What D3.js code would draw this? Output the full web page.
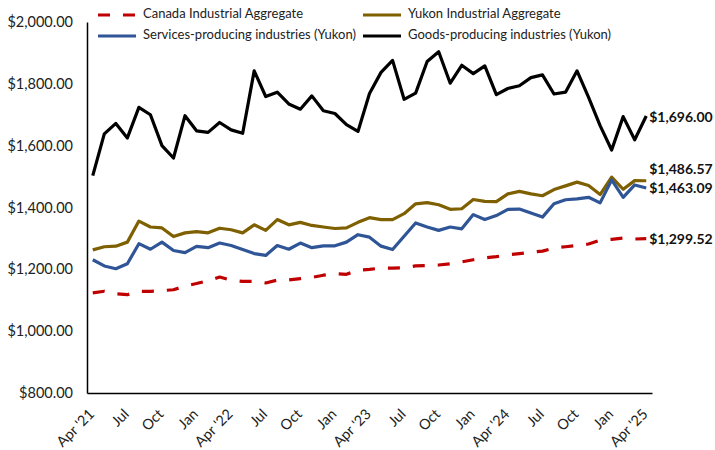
<!DOCTYPE html>
<html><head><meta charset="utf-8">
<script src="https://cdn.jsdelivr.net/npm/d3@7"></script>
<style>
html,body{margin:0;padding:0;background:#fff;}
svg{display:block;}
</style></head>
<body><svg id="chart" width="715" height="450"></svg>
<script>
const months = ["Apr '21","May '21","Jun '21","Jul '21","Aug '21","Sep '21","Oct '21","Nov '21","Dec '21","Jan '22","Feb '22","Mar '22",
"Apr '22","May '22","Jun '22","Jul '22","Aug '22","Sep '22","Oct '22","Nov '22","Dec '22","Jan '23","Feb '23","Mar '23",
"Apr '23","May '23","Jun '23","Jul '23","Aug '23","Sep '23","Oct '23","Nov '23","Dec '23","Jan '24","Feb '24","Mar '24",
"Apr '24","May '24","Jun '24","Jul '24","Aug '24","Sep '24","Oct '24","Nov '24","Dec '24","Jan '25","Feb '25","Mar '25","Apr '25"];
const tickLabels = ["Apr '21","Jul","Oct","Jan","Apr '22","Jul","Oct","Jan","Apr '23","Jul","Oct","Jan","Apr '24","Jul","Oct","Jan","Apr '25"];
const yTicks = [800,1000,1200,1400,1600,1800,2000];

const canada = [1124,1129,1121,1118,1129,1129,1131,1134,1146,1154,1163,1175,1165,1161,1161,1156,1165,
1166,1170,1174,1181,1186,1184,1197,1200,1204,1204,1205,1211,1212,1214,1218,1224,1231,
1237,1241,1247,1251,1255,1259,1269,1273,1277,1282,1294,1297,1301,1298,1299.52];
const yukon = [1263,1273,1275,1288,1356,1337,1334,1306,1318,1322,1318,1333,1328,1318,1344,1326,1361,
1344,1352,1342,1337,1332,1334,1352,1367,1361,1361,1380,1412,1416,1409,1394,1396,1426,
1420,1419,1444,1452,1444,1438,1458,1470,1482,1471,1442,1498,1459,1487,1486.57];
const services = [1231,1211,1202,1218,1283,1265,1288,1261,1254,1274,1270,1285,1277,1264,1251,1245,1277,
1265,1285,1270,1276,1276,1288,1312,1304,1275,1264,1307,1350,1337,1326,1337,1331,1377,
1361,1374,1394,1395,1382,1369,1412,1425,1428,1433,1415,1489,1433,1473,1463.09];
const goods = [1503,1638,1672,1625,1724,1700,1600,1560,1697,1648,1643,1675,1651,1640,1842,1759,1773,
1735,1718,1761,1713,1704,1668,1646,1769,1837,1876,1750,1770,1872,1904,1802,1860,1833,
1858,1765,1785,1794,1820,1829,1767,1773,1842,1756,1665,1586,1694,1619,1696.00];

const seriesNames = ["Canada Industrial Aggregate","Yukon Industrial Aggregate","Services-producing industries (Yukon)","Goods-producing industries (Yukon)"];

const series = [
  {name: seriesNames[0], values: canada, color: "#c00000", dash: "12,13", labelDy: 2},
  {name: seriesNames[1], values: yukon, color: "#7f6000", dash: null, labelDy: -10},
  {name: seriesNames[2], values: services, color: "#2f5597", dash: null, labelDy: 1},
  {name: seriesNames[3], values: goods, color: "#000000", dash: null, labelDy: 2}
];

const font = "Lato, 'Open Sans', sans-serif";
const svg = d3.select("#chart");
const mLeft = 87, mRight = 652, mTop = 22, mBottom = 393;

const x = d3.scalePoint().domain(d3.range(months.length)).range([mLeft, mRight]).padding(0.5);
const y = d3.scaleLinear().domain([800, 2000]).range([mBottom, mTop]);

// y axis
const yAxis = svg.append("g").attr("transform", `translate(${mLeft},0)`)
  .call(d3.axisLeft(y).tickValues(yTicks).tickSize(0).tickSizeOuter(0).tickPadding(14).tickFormat(d3.format("$,.2f")));
yAxis.select(".domain").attr("stroke", "#000").attr("stroke-width", 1.5);
yAxis.selectAll("text").attr("font-family", font).attr("font-size", 14.5).attr("fill", "#222");

// x axis
const xTickIdx = d3.range(0, months.length, 3);
const xAxis = svg.append("g").attr("transform", `translate(0,${mBottom})`)
  .call(d3.axisBottom(x).tickValues(xTickIdx).tickSize(0).tickSizeOuter(0)
    .tickFormat((d, i) => tickLabels[i]));
xAxis.select(".domain").attr("stroke", "#000").attr("stroke-width", 1.5);
xAxis.selectAll("text")
  .attr("font-family", font).attr("font-size", 14.5).attr("fill", "#222")
  .attr("text-anchor", "end").attr("dy", null).attr("y", 0)
  .attr("transform", "translate(2,22) rotate(-45)");

// lines
const line = d3.line().x((d, i) => x(i)).y(d => y(d));
series.forEach(s => {
  svg.append("path").datum(s.values)
    .attr("fill", "none").attr("stroke", s.color).attr("stroke-width", 3.2)
    .attr("stroke-linejoin", "round")
    .attr("stroke-dasharray", s.dash)
    .attr("d", line);
});

// end labels
series.forEach(s => {
  const last = s.values.length - 1;
  svg.append("text")
    .attr("x", x(last) + 3).attr("y", y(s.values[last]) + s.labelDy)
    .attr("dominant-baseline", "middle")
    .attr("font-family", font).attr("font-weight", "bold").attr("font-size", 14).attr("fill", "#111")
    .text(d3.format("$,.2f")(s.values[last]));
});

// legend
const legendPos = [
  {sx: 98, tx: 143, ly: 15},
  {sx: 363, tx: 408, ly: 15},
  {sx: 98, tx: 143, ly: 36},
  {sx: 363, tx: 408, ly: 36}
];
series.forEach((s, i) => {
  const p = legendPos[i];
  svg.append("line").attr("x1", p.sx).attr("x2", p.sx + 38).attr("y1", p.ly).attr("y2", p.ly)
    .attr("stroke", s.color).attr("stroke-width", 3.2).attr("stroke-dasharray", s.dash);
  svg.append("text").attr("x", p.tx).attr("y", p.ly).attr("dominant-baseline", "middle")
    .attr("font-family", font).attr("font-size", 13).attr("fill", "#222").text(s.name);
});
</script></body></html>
